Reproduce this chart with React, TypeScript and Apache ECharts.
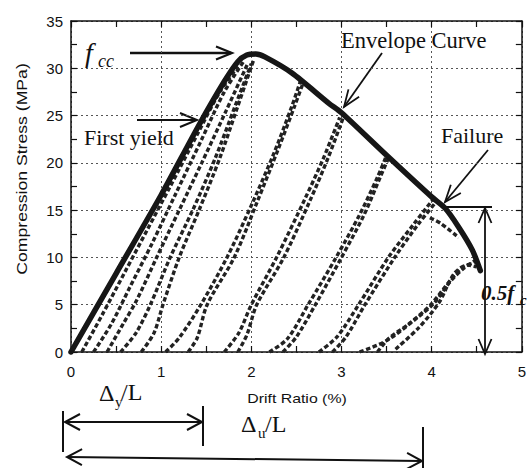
import { useEffect, useRef } from "react";
import * as echarts from "echarts";

type Pt = [number, number];

// Monotonic envelope of the column test (drift %, stress MPa)
const envelope: Pt[] = [
  [0, 0], [0.5, 8.3], [1.0, 16.6], [1.42, 24.0], [1.7, 28.6], [1.85, 30.7],
  [1.95, 31.4], [2.05, 31.5], [2.15, 31.2], [2.45, 29.5], [2.86, 26.3],
  [3.0, 25.3], [3.5, 20.8], [4.0, 16.4], [4.15, 15.2], [4.3, 13.2],
  [4.45, 10.8], [4.54, 8.6],
];

// Unloading / reloading cycles
const loopA1: Pt[] = [[0.12, 0], [0.35, 4], [0.6, 8.5], [0.85, 13], [1.1, 17.5], [1.4, 23], [1.65, 27.5], [1.85, 30.2]];
const loopA2: Pt[] = [[0.25, 0], [0.45, 3], [0.65, 6.8], [0.9, 11.5], [1.15, 16.5], [1.45, 22.5], [1.7, 27.5], [1.92, 30.8]];
const loopB1: Pt[] = [[0.4, 0], [0.58, 3], [0.73, 5.5], [0.95, 10], [1.2, 15], [1.45, 20], [1.72, 25.5], [1.96, 30.5]];
const loopB2: Pt[] = [[0.55, 0], [0.72, 2], [0.88, 5], [1.1, 10], [1.35, 15], [1.6, 20.5], [1.82, 26], [2.0, 30.5]];
const loopB3: Pt[] = [[0.78, 0], [0.92, 2], [1.02, 5], [1.2, 10], [1.42, 15], [1.65, 20.5], [1.85, 26], [2.03, 31]];
const loopC1: Pt[] = [[1.05, 0], [1.2, 1.5], [1.44, 5], [1.73, 10], [2.0, 15.5], [2.25, 21], [2.45, 26], [2.55, 28.8]];
const loopC2: Pt[] = [[1.3, 0], [1.4, 1.5], [1.51, 5], [1.81, 10], [2.07, 16], [2.3, 21.5], [2.48, 26], [2.58, 28.6]];
const loopD1: Pt[] = [[1.7, 0], [1.86, 2], [2.0, 5], [2.28, 10], [2.6, 16.3], [2.8, 20.5], [2.98, 24.8]];
const loopD2: Pt[] = [[1.85, 0], [1.95, 1.8], [2.06, 5], [2.36, 10], [2.65, 16], [2.85, 20.5], [3.02, 24.8]];
const loopE1: Pt[] = [[2.2, 0], [2.4, 1.4], [2.63, 5], [2.94, 10], [3.2, 14.5], [3.4, 18.5], [3.5, 20.8]];
const loopE2: Pt[] = [[2.35, 0], [2.5, 1.6], [2.71, 5], [3.0, 10], [3.25, 14.5], [3.43, 18.5], [3.53, 20.7]];
const loopF1: Pt[] = [[2.75, 0], [2.95, 1.6], [3.19, 5], [3.52, 10], [3.8, 13.5], [4.02, 16.2]];
const loopF2: Pt[] = [[2.9, 0], [3.05, 1.6], [3.26, 5], [3.59, 10], [3.85, 13.5], [4.06, 16]];
const loopF3: Pt[] = [[3.98, 14.2], [4.1, 13.6], [4.3, 12.1]];
const loopG1: Pt[] = [[3.2, 0], [3.5, 1.2], [3.85, 3.7], [4.03, 5.2], [4.21, 7.5], [4.35, 8.8], [4.5, 9.8]];
const loopG2: Pt[] = [[3.4, 0], [3.52, 1.4], [3.75, 3], [3.99, 5], [4.2, 7.5], [4.35, 9], [4.5, 9.5]];
const loopG3: Pt[] = [[3.6, 0.3], [3.85, 2.5], [4.08, 5.2], [4.25, 8.3], [4.4, 9.2], [4.5, 9.0]];

const cycles: Pt[][] = [
  loopA1, loopA2, loopB1, loopB2, loopB3, loopC1, loopC2, loopD1, loopD2,
  loopE1, loopE2, loopF1, loopF2, loopF3, loopG1, loopG2, loopG3,
];

const xRange = { min: 0, max: 5, step: 1 };
const yRange = { min: 0, max: 35, step: 5 };

const INK = "#111";
const SERIF = "'Liberation Serif', 'Times New Roman', serif";
const SANS = "'Liberation Sans', Arial, sans-serif";

function line(x1: number, y1: number, x2: number, y2: number, w = 2) {
  return { type: "line", shape: { x1, y1, x2, y2 }, style: { stroke: INK, lineWidth: w }, silent: true };
}

// open V arrow head at (tx, ty), pointing away from (fx, fy)
function head(fx: number, fy: number, tx: number, ty: number, len = 15, half = 6.5, w = 2) {
  const dx = tx - fx, dy = ty - fy;
  const d = Math.hypot(dx, dy) || 1;
  const ux = dx / d, uy = dy / d;
  const bx = tx - ux * len, by = ty - uy * len;
  return {
    type: "polyline",
    shape: { points: [[bx - uy * half, by + ux * half], [tx, ty], [bx + uy * half, by - ux * half]] },
    style: { stroke: INK, lineWidth: w, fill: null },
    silent: true,
  };
}

function text(x: number, y: number, s: string, size: number, extra: Record<string, unknown> = {}, el: Record<string, unknown> = {}) {
  return {
    type: "text", x, y, silent: true, ...el,
    style: { text: s, fontSize: size, fontFamily: SERIF, fill: INK, align: "left", verticalAlign: "middle", ...extra },
  };
}

function axisPair(kind: "x" | "y", r: { min: number; max: number; step: number }) {
  const common = {
    type: "value", min: r.min, max: r.max, interval: r.step,
    axisLine: { show: true, onZero: false, lineStyle: { color: INK, width: 1.5 } },
    axisTick: { show: true, inside: true, length: 6, lineStyle: { color: INK, width: 1.2 } },
    minorTick: { show: true, splitNumber: 2, length: 6, lineStyle: { color: INK, width: 1.2 } },
  };
  const main = {
    ...common,
    position: kind === "x" ? "bottom" : "left",
    axisLabel: { fontSize: 15, color: INK, fontFamily: SANS, margin: kind === "x" ? 12 : 8 },
    splitLine: { show: true, lineStyle: { color: "#555", width: 1, type: [2, 3] } },
  };
  const mirror = {
    ...common,
    position: kind === "x" ? "top" : "right",
    axisLabel: { show: false },
    splitLine: { show: false },
  };
  return [main, mirror];
}

export default function App() {
  const ref = useRef<HTMLDivElement>(null);

  useEffect(() => {
    if (!ref.current) return;
    const chart = echarts.init(ref.current, undefined, { renderer: "svg" });

    const graphic = [
      // axis titles
      text(297, 399, "Drift Ratio (%)", 12.5, { fontFamily: SANS, align: "center" }, { scaleX: 1.27 }),
      text(22, 169, "Compression Stress (MPa)", 14, { fontFamily: SANS, align: "center" }, { rotation: Math.PI / 2, scaleX: 1.26 }),

      // f_cc at the peak
      text(85, 52, "f", 28, { fontStyle: "italic" }),
      text(98, 61, "cc", 18, { fontStyle: "italic" }),
      line(130, 53, 231, 53, 2.5),
      head(130, 53, 232, 53, 16, 6.5, 2.2),

      // first yield
      text(84, 137, "First yield", 22),
      line(137, 120, 196, 120, 2),
      head(137, 120, 197, 120, 17, 7, 2),

      // envelope label
      text(341, 40, "Envelope Curve", 22.5),
      line(382, 53, 344, 107, 1.8),
      head(382, 53, 344, 107, 17, 6.5, 1.8),

      // failure
      text(441, 135, "Failure", 22),
      line(488, 150, 445, 202, 1.8),
      head(488, 150, 445, 202, 17, 6.5, 1.8),

      // 0.5 f_c bracket
      line(445, 207, 492, 207, 1.8),
      line(485, 208, 485, 354, 1.8),
      head(485, 354, 485, 208, 15, 6.5, 1.8),
      head(485, 208, 485, 354, 15, 6.5, 1.8),
      text(481, 293, "0.5f", 21, { fontStyle: "italic", fontWeight: "bold" }),
      text(520, 300, "c", 15, { fontStyle: "italic", fontWeight: "bold" }),

      // yield drift
      text(99, 393, "\u0394", 24),
      text(115, 402, "y", 15),
      text(121, 392, "/L", 24),
      line(63, 411, 63, 452, 2),
      line(203, 406, 203, 446, 2),
      line(66, 422, 201, 422, 2),
      head(201, 422, 65, 422, 15, 8, 2),
      head(66, 422, 202, 422, 15, 8, 2),

      // ultimate drift
      text(241, 424, "\u0394", 24),
      text(258, 433, "u", 15),
      text(265, 424, "/L", 24),
      line(68, 457, 421, 461, 2),
      head(421, 461, 67, 457, 15, 8, 2),
      head(68, 457, 422, 461, 15, 8, 2),
      line(423, 427, 423, 468, 2),
    ];

    chart.setOption({
      animation: false,
      backgroundColor: "#fff",
      grid: { left: 71, right: 4, top: 21, bottom: 116, containLabel: false },
      xAxis: axisPair("x", xRange),
      yAxis: axisPair("y", yRange),
      series: [
        ...cycles.map((d) => ({
          type: "line", data: d, showSymbol: false, smooth: 0.3, silent: true, z: 2,
          lineStyle: { color: "#222", width: 3.4, type: [4.5, 2.5] },
        })),
        {
          type: "line", data: envelope, showSymbol: false, smooth: 0.25, silent: true, z: 3,
          lineStyle: { color: "#161616", width: 5.5, cap: "round", join: "round" },
        },
      ],
      graphic,
    });

    return () => chart.dispose();
  }, []);

  return (
    <div
      ref={ref}
      style={{ position: "fixed", left: 0, top: 0, width: 529, height: 468, background: "#fff" }}
    />
  );
}
